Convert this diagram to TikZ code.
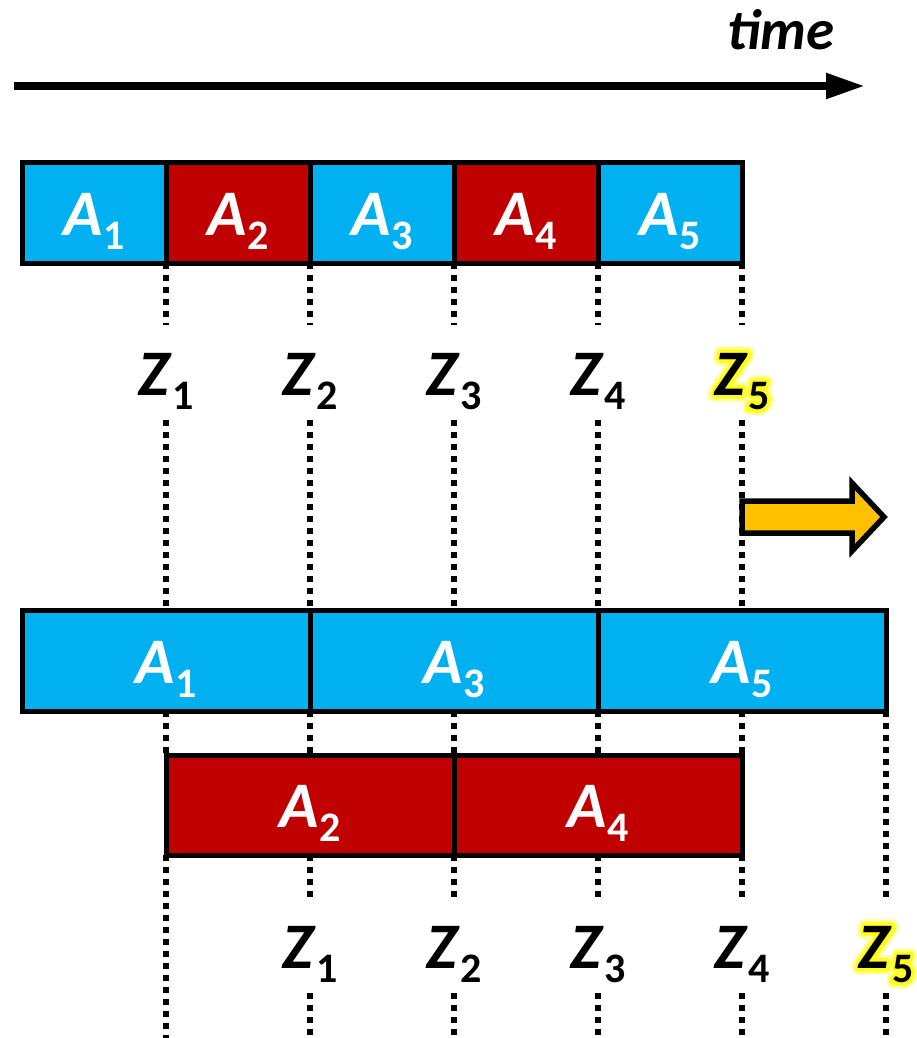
\documentclass[tikz,border=0pt]{standalone}
\usepackage{fontspec}
\setmainfont{Carlito}
\usetikzlibrary{arrows.meta,calc}

\definecolor{cellblue}{RGB}{0,176,240}
\definecolor{cellred}{RGB}{192,0,0}
\definecolor{shiftorange}{RGB}{255,192,0}

% symbol with an upright, lowered index
\newcommand\idx[2]{\textit{#1}\raisebox{-14pt}{\fontsize{42}{42}\selectfont\upshape #2}}
% text drawn as outline only: #1 stroke width, #2 stroke colour (rgb), #3 text
\newcommand\outlined[3]{\special{pdf:code q 1 Tr #1 w 1 J 1 j #2 RG}#3\special{pdf:code Q}}
% soft yellow halo behind a label placed at a coordinate
\newcommand\halo[2]{%
  \node[zlab] at (#1) {\outlined{13}{1 1 0.62}{#2}};
  \node[zlab] at (#1) {\outlined{7}{1 1 0.1}{#2}};
}

\tikzset{
  cell/.style={draw=black, line width=5pt, inner sep=0pt, outer sep=0pt,
    text=white, text height=50pt, text depth=5pt,
    font=\fontsize{65}{65}\selectfont\bfseries},
  bluecell/.style={cell, fill=cellblue},
  redcell/.style={cell, fill=cellred},
  short/.style={minimum width=144pt, minimum height=101pt},
  long/.style={minimum width=288pt, minimum height=101pt},
  zlab/.style={anchor=base, inner xsep=0pt, inner ysep=10pt,
    text height=60pt, text depth=15pt, text=black,
    font=\fontsize{65}{65}\selectfont\bfseries},
  guide/.style={line width=5.5pt, dash pattern=on 5.5pt off 6.5pt},
  timeline/.style={line width=8pt, -{Triangle[length=39pt,width=24pt]}},
  shiftarrow/.style={draw=black, fill=shiftorange, line width=5.5pt, miter limit=10},
}

\begin{document}
\begin{tikzpicture}[x=1pt, y=-1pt]
\useasboundingbox (0,0) rectangle (916,1038);

% time axis
\coordinate (ts) at (14,86);
\coordinate (te) at (865,86);
\draw[timeline] (ts) -- (te);
\node[anchor=base, inner sep=0pt, font=\fontsize{57}{57}\selectfont\bfseries\itshape] (time) at (781,50) {time};

% interleaved schedule
\node[bluecell, short] (t1) at (94,212.5)  {\idx{A}{1}};
\node[redcell,  short] (t2) at (238,212.5) {\idx{A}{2}};
\node[bluecell, short] (t3) at (382,212.5) {\idx{A}{3}};
\node[redcell,  short] (t4) at (526,212.5) {\idx{A}{4}};
\node[bluecell, short] (t5) at (670,212.5) {\idx{A}{5}};

% completion points of the interleaved schedule
\coordinate (g1) at (742,395);
\halo{g1}{\idx{Z}{5}}
\node[zlab] (z1) at (166,395) {\idx{Z}{1}};
\node[zlab] (z2) at (310,395) {\idx{Z}{2}};
\node[zlab] (z3) at (454,395) {\idx{Z}{3}};
\node[zlab] (z4) at (598,395) {\idx{Z}{4}};
\node[zlab] (z5) at (g1) {\idx{Z}{5}};

% split schedule: two parallel lanes
\node[bluecell, long] (w1) at (166,660.5) {\idx{A}{1}};
\node[bluecell, long] (w2) at (454,660.5) {\idx{A}{3}};
\node[bluecell, long] (w3) at (742,660.5) {\idx{A}{5}};
\node[redcell, long, minimum height=100pt] (r1) at (310,805) {\idx{A}{2}};
\node[redcell, long, minimum height=100pt] (r2) at (598,805) {\idx{A}{4}};

% completion points of the split schedule
\coordinate (g2) at (886,968);
\halo{g2}{\idx{Z}{5}}
\node[zlab] (y1) at (310,968) {\idx{Z}{1}};
\node[zlab] (y2) at (454,968) {\idx{Z}{2}};
\node[zlab] (y3) at (598,968) {\idx{Z}{3}};
\node[zlab] (y4) at (742,968) {\idx{Z}{4}};
\node[zlab] (y5) at (g2) {\idx{Z}{5}};

% lower ends of the guide lines
\coordinate (e0) at (166,1038);
\coordinate (e1) at (310,1038);
\coordinate (e2) at (454,1038);
\coordinate (e3) at (598,1038);
\coordinate (e4) at (742,1038);
\coordinate (e5) at (886,1038);

% guide lines, upper part
\draw[guide] (t1.south east) -- (z1.north);
\draw[guide] (t2.south east) -- (z2.north);
\draw[guide] (t3.south east) -- (z3.north);
\draw[guide] (t4.south east) -- (z4.north);
\draw[guide] (t5.south east) -- (z5.north);
\draw[guide] (z1.south) -- (w1.north);
\draw[guide] (z2.south) -- (w1.north east);
\draw[guide] (z3.south) -- (w2.north);
\draw[guide] (z4.south) -- (w2.north east);
\draw[guide] (z5.south) -- (w3.north);

% guide lines between the two lanes
\draw[guide] (w1.south) -- (r1.north west);
\draw[guide] (w1.south east) -- (r1.north);
\draw[guide] (w2.south) -- (r1.north east);
\draw[guide] (w2.south east) -- (r2.north);
\draw[guide] (w3.south) -- (r2.north east);
\draw[guide] (w3.south east) -- (y5.north);

% guide lines, lower part
\draw[guide] (r1.south west) -- (e0);
\draw[guide] (r1.south) -- (y1.north);
\draw[guide] (r1.south east) -- (y2.north);
\draw[guide] (r2.south) -- (y3.north);
\draw[guide] (r2.south east) -- (y4.north);
\draw[guide] (y1.south) -- (e1);
\draw[guide] (y2.south) -- (e2);
\draw[guide] (y3.south) -- (e3);
\draw[guide] (y4.south) -- (e4);
\draw[guide] (y5.south) -- (e5);

% shift arrow
\draw[shiftarrow] (742,501) -- (852,501) -- (852,483) -- (884,517)
  -- (852,551) -- (852,533) -- (742,533) -- cycle;
\end{tikzpicture}
\end{document}
